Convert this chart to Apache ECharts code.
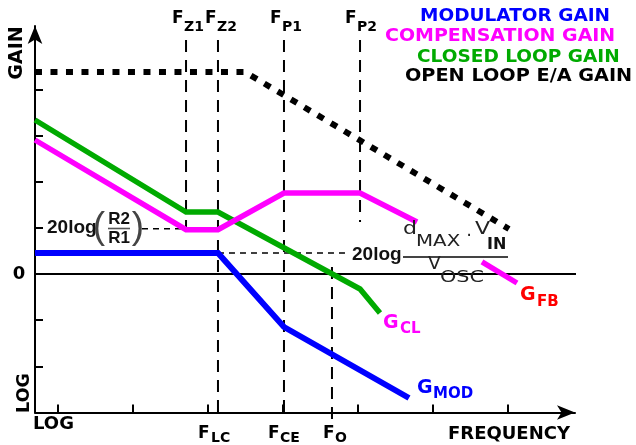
<!DOCTYPE html>
<html><head><meta charset="utf-8">
<script src="https://cdn.jsdelivr.net/npm/echarts@6/dist/echarts.min.js"></script>
<style>html,body{margin:0;padding:0;background:#fff}#c{width:636px;height:445px}</style>
</head><body><div id="c"></div>
<script>
// x: log-frequency units (one axis tick per unit), y: gain units (one axis tick per unit, 0 = unity gain)
const xTicks = [1, 2, 3, 4, 5, 6, 7];
const yTicks = [-2, -1, 1, 2, 3, 4];
const modulatorGain    = [[0.693, 0.455], [3.133, 0.455], [4.013, -1.148], [5.68, -2.686]];
const closedLoopGain   = [[0.693, 3.335], [2.707, 1.343], [3.133, 1.343], [5.027, -0.325], [5.293, -0.845]];
const compensationGain = [[0.693, 2.902], [2.707, 0.96], [3.133, 0.96], [4.013, 1.754], [5.027, 1.754], [5.787, 1.126]];
const feedbackGain     = [[6.653, 0.26], [7.12, -0.195]];
const openLoopEAGain   = [[0.693, 4.375], [3.493, 4.375], [7.013, 0.975]];
// frequency markers: [x, top, bottom]
const markFZ1 = [2.707, 5.068, 0.78];
const markFZ2 = [3.133, 5.068, -3.163];   // also F_LC
const markFP1 = [4.013, 5.068, -3.163];   // also F_CE
const markFP2 = [5.027, 5.068, 1.126];
const markFO  = [4.653, 0.152, -3.206];
// gain reference levels: [y, xFrom, xTo]
const levelR2R1 = [0.98, 2.12, 2.707];
const levelMod  = [0.455, 3.133, 4.827];

const xMin = 0.6933, xMax = 7.8933, yMin = -3, yMax = 5.371, zeroEnd = 8.0;

const chart = echarts.init(document.getElementById('c'), null, {renderer: 'canvas'});

function seg(data, color, width, type, z) {
  return {type: 'line', data: data, symbol: 'none', clip: false, silent: true, animation: false, z: z,
    lineStyle: {color: color, width: width, type: type, cap: 'butt', join: 'miter'}};
}
function vmark(m) { return seg([[m[0], m[1]], [m[0], m[2]]], '#000', 2, [12, 8], 1); }
function hmark(l) { return seg([[l[1], l[0]], [l[2], l[0]]], '#000', 1.6, [6, 5], 1); }

const DJ = 'DejaVu Sans', LB = 'Liberation Sans';
function T(text, x, y, size, color, o) {
  o = o || {};
  return {type: 'text', x: x, y: y, rotation: o.rot || 0, scaleX: o.sx || 1, z: 100, silent: true,
    style: {text: text, x: 0, y: 0, fontSize: size, fontWeight: o.w || 'bold', fontFamily: o.f || DJ,
      fill: color, align: o.a || 'left', verticalAlign: 'middle'}};
}
function L(x1, y1, x2, y2, w, c) {
  return {type: 'line', z: 100, silent: true, shape: {x1: x1, y1: y1, x2: x2, y2: y2}, style: {stroke: c, lineWidth: w}};
}
function F(x, y, sub, subDy, color, s1, s2, subDx) {
  return [T('F', x, y, s1, color), T(sub, x + subDx, y + subDy, s2, color)];
}

const blue = '#0000ff', pink = '#ff00ff', green = '#00aa00', red = '#ff0000';

const graphic = [].concat(
  T('MODULATOR GAIN', 420, 16, 18.5, blue),
  T('COMPENSATION GAIN', 385, 36, 18.5, pink, {sx: 1.025}),
  T('CLOSED LOOP GAIN', 417, 57, 18.5, green),
  T('OPEN LOOP E/A GAIN', 405, 76, 18.5, '#000', {sx: 1.04}),
  T('GAIN', 17, 53, 19, '#000', {rot: Math.PI / 2, a: 'center'}),
  T('LOG', 24, 393, 17.5, '#000', {rot: Math.PI / 2, a: 'center'}),
  T('0', 19, 274, 18, '#000', {a: 'center'}),
  T('LOG', 33, 424, 18, '#000'),
  T('FREQUENCY', 448, 434, 18, '#000'),
  F(172, 19, 'Z1', 8, '#000', 17, 14, 12),
  F(205, 19, 'Z2', 8, '#000', 17, 14, 12),
  F(270, 19, 'P1', 8, '#000', 17, 14, 12),
  F(345, 19, 'P2', 8, '#000', 17, 14, 12),
  F(198, 434, 'LC', 4.5, '#000', 17, 14, 13),
  F(268, 434, 'CE', 4.5, '#000', 17, 14, 12),
  F(323, 434, 'O', 4.5, '#000', 17, 14, 12),
  T('G', 383, 323, 19, pink), T('CL', 400, 329, 15, pink),
  T('G', 520, 295, 19, red), T('FB', 537, 302, 15, red),
  T('G', 417, 388, 19, blue), T('MOD', 433, 394, 15, blue),
  // 20log(R2/R1)
  T('20log', 47, 228, 19, '#111', {f: LB}),
  T('(', 99, 228, 37, '#444', {f: LB, w: 'normal', a: 'center'}),
  T(')', 138, 228, 37, '#444', {f: LB, w: 'normal', a: 'center'}),
  T('R2', 119, 219, 17, '#111', {f: LB, a: 'center'}),
  T('R1', 119, 238.5, 17, '#111', {f: LB, a: 'center'}),
  L(108, 228.5, 130, 228.5, 1.6, '#555'),
  // 20log(dMAX·VIN / VOSC)
  T('20log', 352, 255, 19, '#111', {f: LB}),
  T('d', 403, 230, 17, '#222', {w: 'normal', sx: 1.3}),
  T('MAX', 416, 242, 16.5, '#222', {w: 'normal', sx: 1.2}),
  T('·', 469, 236, 18, '#222', {w: 'normal', a: 'center'}),
  T('V', 475, 230, 17, '#222', {w: 'normal', sx: 1.3}),
  T('IN', 487, 245, 16, '#111'),
  L(403, 257, 508, 257, 2, '#444'),
  T('V', 428, 265, 17, '#222', {w: 'normal', sx: 1.1}),
  T('OSC', 440, 278, 16, '#222', {w: 'normal', sx: 1.3})
);

chart.setOption({
  animation: false,
  grid: {left: 35, top: 26, right: 61, bottom: 32.5},
  xAxis: {type: 'value', min: xMin, max: xMax, splitLine: {show: false},
    axisLine: {onZero: false, lineStyle: {color: '#000', width: 2}, symbol: ['none', 'arrow'], symbolSize: [11, 18]},
    axisTick: {inside: true, length: 8, lineStyle: {color: '#000', width: 2}, customValues: xTicks},
    axisLabel: {show: false}},
  yAxis: {type: 'value', min: yMin, max: yMax, splitLine: {show: false},
    axisLine: {onZero: false, lineStyle: {color: '#000', width: 2}, symbol: ['none', 'arrow'], symbolSize: [11, 18]},
    axisTick: {inside: true, length: 8, lineStyle: {color: '#000', width: 2}, customValues: yTicks},
    axisLabel: {show: false}},
  series: [
    seg([[xMin, 0], [zeroEnd, 0]], '#000', 2, 'solid', 2),
    vmark(markFZ1), vmark(markFZ2), vmark(markFP1), vmark(markFP2), vmark(markFO),
    hmark(levelR2R1), hmark(levelMod),
    seg(openLoopEAGain, '#000', 6, [7, 8.5], 3),
    seg(modulatorGain, blue, 6, 'solid', 4),
    seg(closedLoopGain, green, 5.5, 'solid', 5),
    seg(compensationGain, pink, 5.5, 'solid', 6),
    seg(feedbackGain, pink, 5.5, 'solid', 6)
  ],
  graphic: graphic
});
</script>
</body></html>
